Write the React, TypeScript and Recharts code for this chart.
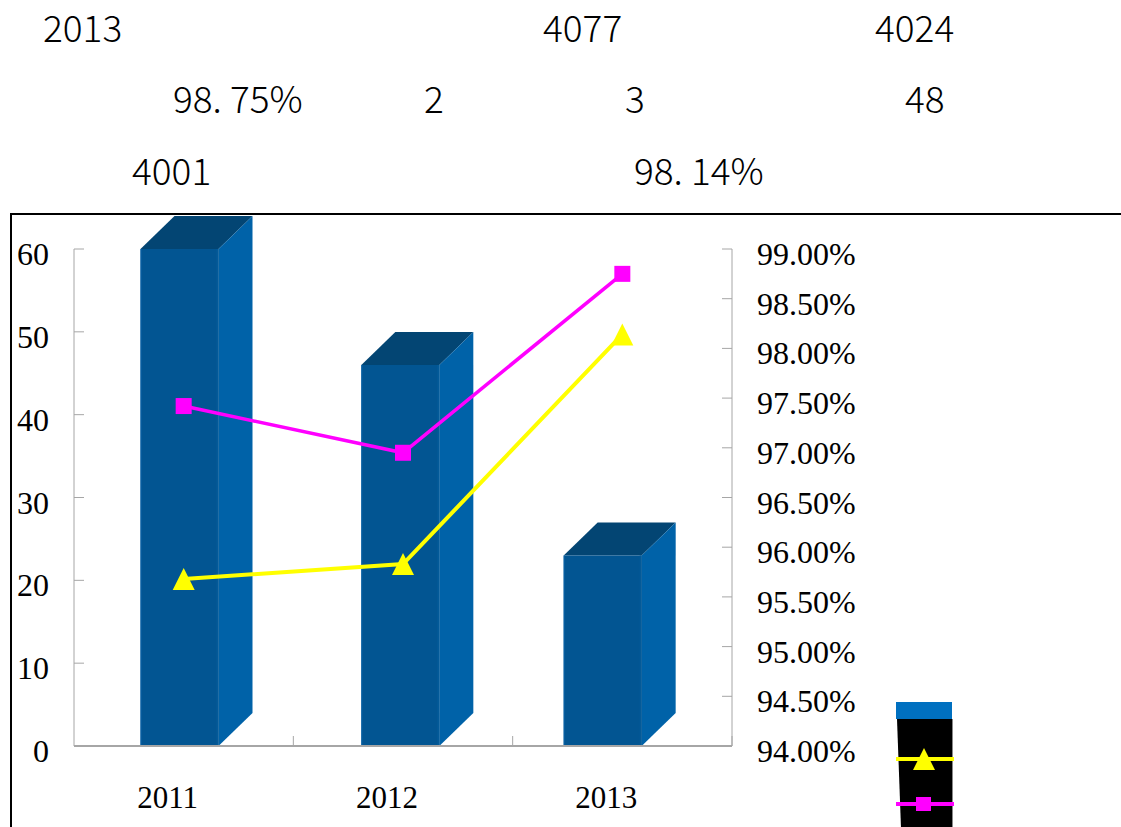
import React from 'react';
import { ComposedChart, Bar, Line, XAxis, YAxis, Legend } from 'recharts';

const categories = ['2011', '2012', '2013'];
const barValues = [60, 46, 23];
const yellowRates = [95.68, 95.83, 98.14];
const magentaRates = [97.42, 96.95, 98.75];
const leftTicks = [0, 10, 20, 30, 40, 50, 60];
const rightTicks = [94, 94.5, 95, 95.5, 96, 96.5, 97, 97.5, 98, 98.5, 99];

const headerRow1 = ['2013', '4077', '4024'];
const headerRow2 = ['98. 75%', '2', '3', '48'];
const headerRow3 = ['4001', '98. 14%'];
const headerRows = [headerRow1, headerRow2, headerRow3];
const headerX = [[43, 543, 875], [173, 424, 625, 905], [132, 634]];
const headerY = [42, 113, 185];

// per-bar horizontal nudge reproducing the reference's perspective placement
const barShift = [-4.5, -3, -20];

const data = categories.map((c, i) => ({
  year: c,
  count: barValues[i],
  rateA: yellowRates[i],
  rateB: magentaRates[i],
}));

const W = 1121;
const H = 827;
const AXIS_COLOR = '#a6a6a6';
const SERIF = '"Liberation Serif", "Times New Roman", serif';
const SANS = '"Noto Sans CJK JP", "Noto Sans", sans-serif';

const DX = 34;
const DY = -33;

const Bar3D = (props: any) => {
  const { x, y, width, height, index } = props;
  if (height == null || width == null) return null;
  const x0 = x + (barShift[index] ?? -4.5);
  const w = width;
  return (
    <g>
      <polygon
        points={`${x0},${y} ${x0 + DX},${y + DY} ${x0 + w + DX},${y + DY} ${x0 + w},${y}`}
        fill="#034573"
      />
      <polygon
        points={`${x0 + w},${y} ${x0 + w + DX},${y + DY} ${x0 + w + DX},${y + height + DY} ${x0 + w},${y + height}`}
        fill="#0062A8"
      />
      <rect x={x0} y={y} width={w} height={height} fill="#025592" />
      <line x1={x0 + 0.5} y1={y} x2={x0 + 0.5} y2={y + height} stroke="#0a63a8" strokeWidth={1} />
      <line x1={x0 + w - 1} y1={y} x2={x0 + w - 1} y2={y + height} stroke="#045a98" strokeWidth={2} />
    </g>
  );
};

const SquareDot = (props: any) => {
  const { cx, cy } = props;
  if (cx == null || cy == null) return null;
  return <rect x={cx - 8} y={cy - 8} width={16} height={16} fill="#FF00FF" />;
};

const TriangleDot = (props: any) => {
  const { cx, cy } = props;
  if (cx == null || cy == null) return null;
  return (
    <polygon
      points={`${cx},${cy - 11} ${cx + 11},${cy + 11} ${cx - 11},${cy + 11}`}
      fill="#FFFF00"
    />
  );
};

const LeftTick = (props: any) => {
  const { x, y, payload } = props;
  return (
    <g>
      <line x1={x} y1={y} x2={x + 10} y2={y} stroke={AXIS_COLOR} strokeWidth={1} />
      <text x={x - 25} y={y + 16} textAnchor="end" fontFamily={SERIF} fontSize={32} fill="#000">
        {payload.value}
      </text>
    </g>
  );
};

const RightTick = (props: any) => {
  const { x, y, payload } = props;
  return (
    <g>
      <line x1={x} y1={y} x2={x - 10} y2={y} stroke={AXIS_COLOR} strokeWidth={1} />
      <text x={x + 25} y={y + 16} textAnchor="start" fontFamily={SERIF} fontSize={32} fill="#000">
        {Number(payload.value).toFixed(2) + '%'}
      </text>
    </g>
  );
};

const BottomTick = (props: any) => {
  const { x, y, payload } = props;
  const off = payload && payload.offset ? payload.offset : 109.7;
  return (
    <g>
      <line x1={x + off} y1={y} x2={x + off} y2={y - 10} stroke={AXIS_COLOR} strokeWidth={1} />
      <text x={x - 16} y={y + 62} textAnchor="middle" fontFamily={SERIF} fontSize={31} fill="#000">
        {payload.value}
      </text>
    </g>
  );
};

const LegendContent = (props: any) => {
  const payload = props.payload || [];
  const keys = payload.map((p: any) => p.dataKey);
  const hasBar = keys.includes('count');
  return (
    <svg width={62} height={126} style={{ overflow: 'visible', display: 'block' }}>
      <polygon points="1,17 56,17 56,126 5,126" fill="#000" />
      <line x1={56.5} y1={17} x2={56.5} y2={126} stroke="#888" strokeWidth={1} />
      {hasBar && <rect x={0} y={0} width={56} height={17} fill="#0070C0" />}
      {keys.includes('rateA') && (
        <g>
          <line x1={0} y1={57} x2={58} y2={57} stroke="#FFFF00" strokeWidth={4} />
          <polygon points="28,46 39,68 17,68" fill="#FFFF00" />
        </g>
      )}
      {keys.includes('rateB') && (
        <g>
          <line x1={0} y1={102} x2={58} y2={102} stroke="#FF00FF" strokeWidth={4} />
          <rect x={20} y={95} width={15} height={14} fill="#FF00FF" />
        </g>
      )}
    </svg>
  );
};

export default function App() {
  return (
    <div style={{ position: 'absolute', left: 0, top: 0, width: W, height: H, background: '#fff', overflow: 'hidden' }}>
      <svg width={W} height={220} style={{ position: 'absolute', left: 0, top: 0 }}>
        {headerRows.map((row, r) =>
          row.map((t, i) => (
            <text
              key={`${r}-${i}`}
              x={headerX[r][i]}
              y={headerY[r]}
              fontFamily={SANS}
              fontWeight={300}
              fontSize={37}
              fill="#000"
            >
              {t}
            </text>
          ))
        )}
      </svg>
      <div style={{ position: 'absolute', left: 0, top: 0 }}>
        <ComposedChart
          width={W}
          height={H}
          data={data}
          margin={{ top: 249, right: 269, bottom: 21, left: 12 }}
        >
          <XAxis
            dataKey="year"
            xAxisId="x"
            height={60}
            tickSize={0}
            tickMargin={0}
            tickLine={false}
            axisLine={{ stroke: AXIS_COLOR, strokeWidth: 2 }}
            tick={<BottomTick />}
            interval={0}
          />
          <YAxis
            yAxisId="left"
            orientation="left"
            width={62}
            domain={[0, 60]}
            ticks={leftTicks}
            tickSize={0}
            tickMargin={0}
            tickLine={false}
            axisLine={{ stroke: AXIS_COLOR, strokeWidth: 1 }}
            tick={<LeftTick />}
            interval={0}
          />
          <YAxis
            yAxisId="right"
            orientation="right"
            width={120}
            domain={[94, 99]}
            ticks={rightTicks}
            tickSize={0}
            tickMargin={0}
            tickLine={false}
            axisLine={{ stroke: AXIS_COLOR, strokeWidth: 1 }}
            tick={<RightTick />}
            interval={0}
          />
          <Bar
            dataKey="count"
            xAxisId="x"
            yAxisId="left"
            barSize={78}
            fill="#025592"
            shape={<Bar3D />}
            isAnimationActive={false}
          />
          <Line
            dataKey="rateA"
            xAxisId="x"
            yAxisId="right"
            stroke="#FFFF00"
            strokeWidth={4}
            dot={<TriangleDot />}
            activeDot={false}
            isAnimationActive={false}
          />
          <Line
            dataKey="rateB"
            xAxisId="x"
            yAxisId="right"
            stroke="#FF00FF"
            strokeWidth={3.5}
            dot={<SquareDot />}
            activeDot={false}
            isAnimationActive={false}
          />
          <Legend
            layout="horizontal"
            verticalAlign="middle"
            align="center"
            content={<LegendContent />}
            wrapperStyle={{ position: 'absolute', left: 896, top: 702, width: 62, height: 126 }}
          />
        </ComposedChart>
      </div>
      <svg width={W} height={H} style={{ position: 'absolute', left: 0, top: 0, pointerEvents: 'none' }}>
        <rect x={11} y={214} width={1200} height={700} fill="none" stroke="#000" strokeWidth={2} />
      </svg>
    </div>
  );
}
